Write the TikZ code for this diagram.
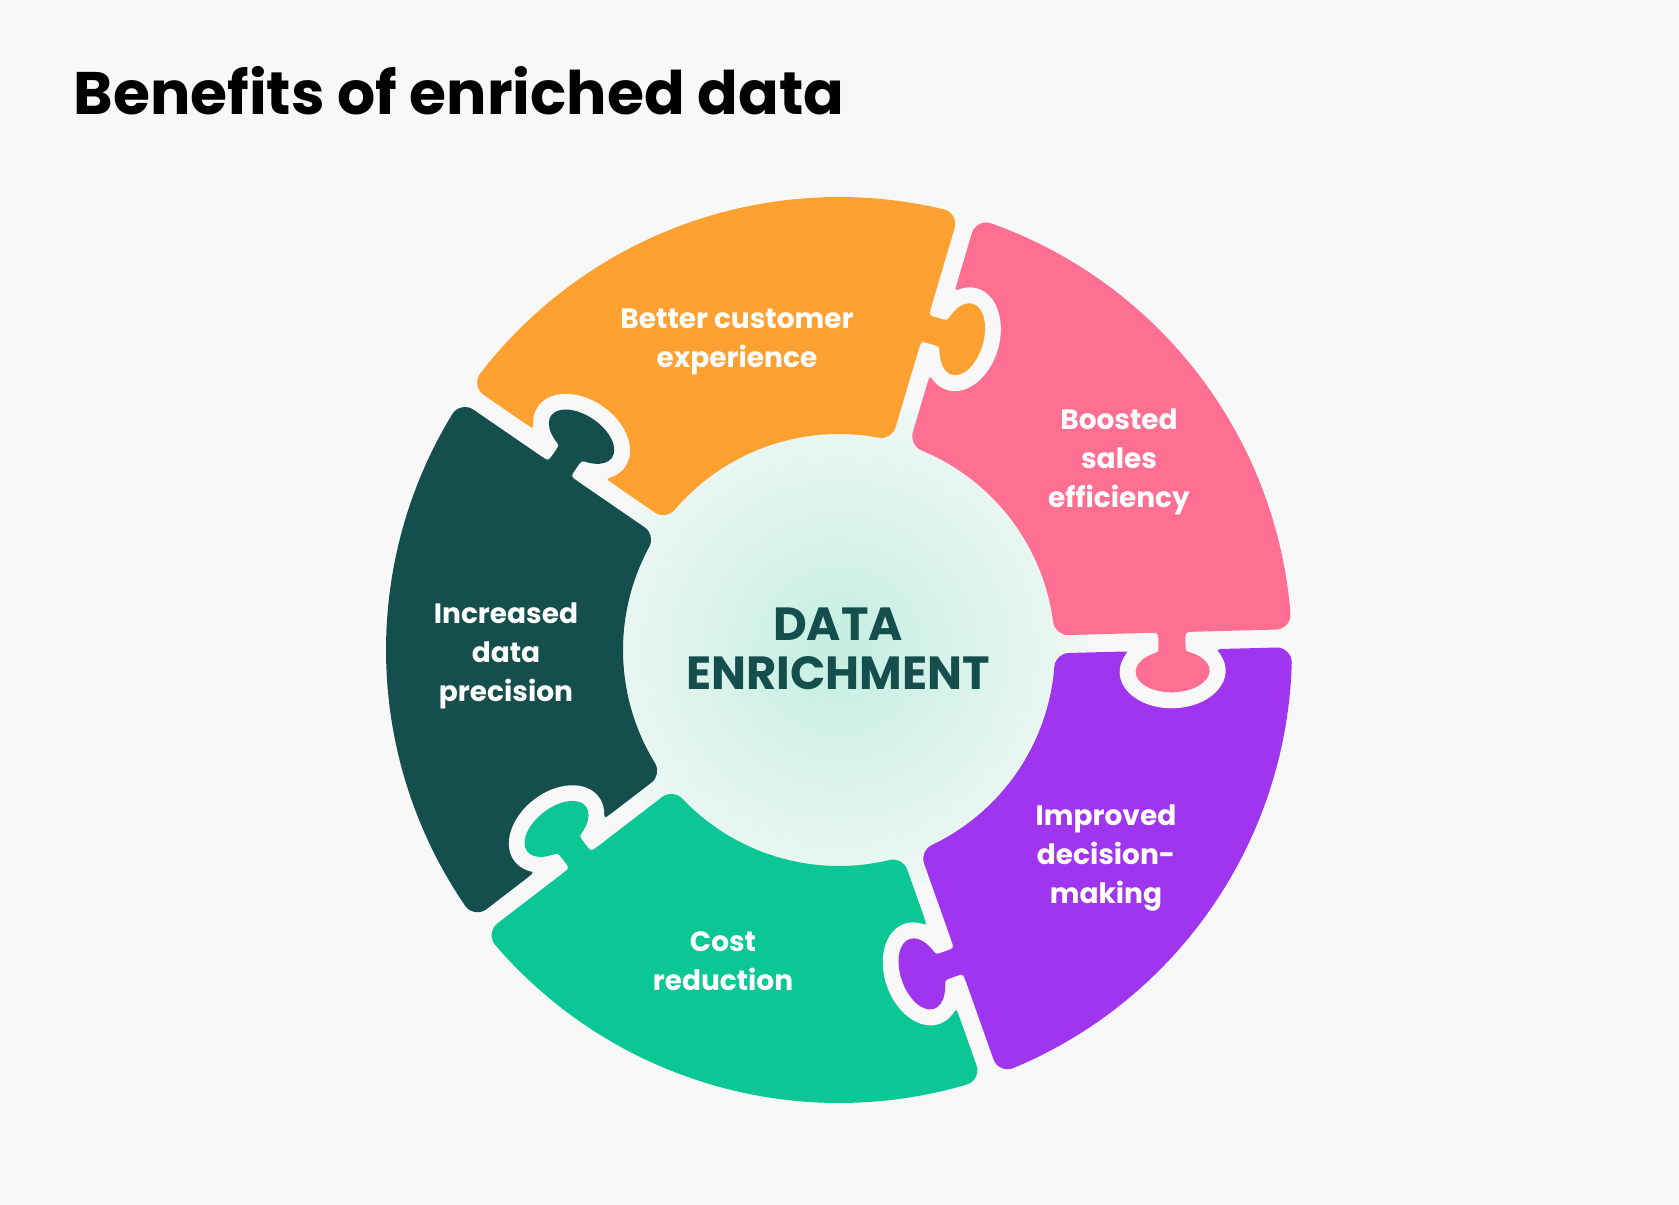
\documentclass[tikz,border=0pt]{standalone}
\usepackage{fontspec}
\newfontfamily\pop{Poppins}
\definecolor{bg}{HTML}{F8F8F8}
\definecolor{cpink}{HTML}{FF6F91}
\definecolor{corange}{HTML}{FFA130}
\definecolor{cdark}{HTML}{144F4E}
\definecolor{cteal}{HTML}{0BC796}
\definecolor{cpurple}{HTML}{9F35EE}
\definecolor{mint}{HTML}{C4EEE1}
\definecolor{mintedge}{HTML}{EFF8F5}
\tikzset{
  lbl/.style={align=center, text=white, font=\pop\bfseries\fontsize{28}{39}\selectfont},
  piecebody/.style={line width=30pt, line join=round},
}
\begin{document}
\begin{tikzpicture}[x=1pt,y=1pt]
\useasboundingbox (-839,-555) rectangle (840,650);
\fill[bg] (-839,-555) rectangle (840,650);
\shade[inner color=mint, outer color=mintedge] (0,0) circle (250);
\def\rm{333}
% sectors
\foreach \a/\c in {1.5/cpink,73.5/corange,145.5/cdark,217.5/cteal,289.5/cpurple}{
  \begin{scope}[rotate=\a]
    \filldraw[fill=\c, draw=\c, piecebody] (5.96:231) -- (3.14:438)
      arc[start angle=3.14, end angle=68.86, radius=438] -- (66.04:231)
      arc[start angle=66.04, end angle=5.96, radius=231] -- cycle;
  \end{scope}
}
% sockets and tabs
\foreach \a/\c in {1.5/cpink,73.5/corange,145.5/cdark,217.5/cteal,289.5/cpurple}{
  \begin{scope}[rotate=\a]
    \begin{scope}
      \clip (\rm-90,0) rectangle (\rm+90,-100);
      \fill[bg] (\rm,-30) ellipse[x radius=53, y radius=37];
    \end{scope}
    \fill[bg] (\rm-52.6,-9) .. controls (\rm-43.6,-9) .. (\rm-49,-16) -- (\rm-43.6,-9) -- cycle;
    \fill[bg] (\rm+52.6,-9) .. controls (\rm+43.6,-9) .. (\rm+49,-16) -- (\rm+43.6,-9) -- cycle;
    \fill[\c] (\rm-13.5,12) -- (\rm-13.5,-10.45)
      arc[start angle=111.4, end angle=428.6, x radius=37, y radius=21]
      -- (\rm+13.5,12) -- cycle;
    \fill[\c] (\rm-22.5,9) .. controls (\rm-13.5,9) .. (\rm-13.5,0) -- (\rm-13.5,9) -- cycle;
    \fill[\c] (\rm+22.5,9) .. controls (\rm+13.5,9) .. (\rm+13.5,0) -- (\rm+13.5,9) -- cycle;
    \fill[\c] (\rm-13.5,-2.45) .. controls (\rm-13.5,-10.45) .. (\rm-20.9,-12.67) -- (\rm-13.5,-10.45) -- cycle;
    \fill[\c] (\rm+13.5,-2.45) .. controls (\rm+13.5,-10.45) .. (\rm+20.9,-12.67) -- (\rm+13.5,-10.45) -- cycle;
  \end{scope}
}
% texts
\node[anchor=base west, text=black, font=\pop\bfseries\fontsize{60}{70}\selectfont] (title) at (-769,535) {Benefits of enriched data};
\node[align=center, text=cdark, font=\pop\bfseries\fontsize{46.5}{49}\selectfont] (center) at (-1,1) {DATA\\ENRICHMENT};
\node[lbl] (orange) at (-102,308) {Better customer\\experience};
\node[lbl] (pink) at (280,188) {Boosted\\sales\\efficiency};
\node[lbl] (dark) at (-333,-6) {Increased\\data\\precision};
\node[lbl] (purple) at (267,-208) {Improved\\decision-\\making};
\node[lbl] (teal) at (-116,-311) {Cost\\reduction};
\end{tikzpicture}
\end{document}
